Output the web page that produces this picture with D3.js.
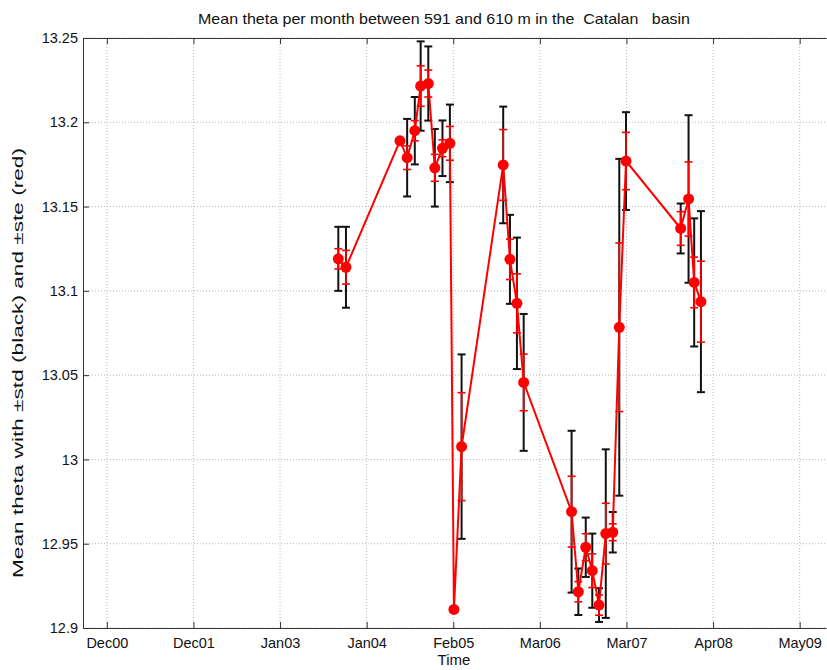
<!DOCTYPE html>
<html>
<head>
<meta charset="utf-8">
<script src="https://cdn.jsdelivr.net/npm/d3@7"></script>
<style>
  html, body { margin: 0; padding: 0; background: #fff; }
  svg text { font-family: "Liberation Sans", Arial, sans-serif; }
</style>
</head>
<body>
<svg id="chart" width="827" height="670"></svg>
<script>
// ---- data ----
const dates = ["2003-09-26","2003-10-30","2004-06-26","2004-07-28","2004-08-31","2004-09-26","2004-10-30","2004-11-28","2005-01-01","2005-02-03","2005-02-21","2005-03-27","2005-09-28","2005-10-28","2005-11-28","2005-12-28","2006-07-29","2006-08-28","2006-09-30","2006-10-29","2006-11-28","2006-12-28","2007-01-28","2007-02-26","2007-03-28","2007-11-26","2007-12-31","2008-01-25","2008-02-24"];
const meanTheta = [13.119,13.114,13.189,13.179,13.195,13.2215,13.223,13.173,13.1846,13.1875,12.911,13.0076,13.1747,13.1187,13.0926,13.0457,12.969,12.9215,12.9479,12.934,12.9136,12.956,12.9568,13.0784,13.177,13.137,13.1545,13.105,13.0936];
const stdTheta = [0.019,0.024,null,0.023,0.020,0.0265,0.022,0.023,0.0165,0.023,null,0.0547,0.0346,0.0264,0.039,0.0406,0.048,0.0138,0.0176,0.022,0.010,0.050,0.012,0.0999,0.029,0.0148,0.0497,0.038,0.0537];
const steTheta = [0.006,0.010,null,0.007,0.006,0.012,0.008,0.008,0.005,0.010,null,0.032,0.021,0.012,0.0175,0.0168,0.021,0.006,0.008,0.010,0.006,0.018,0.005,0.050,0.017,0.010,0.022,0.015,0.024];
const xTickDates = ["2000-12-01","2001-12-21","2003-01-10","2004-01-30","2005-02-18","2006-03-10","2007-03-30","2008-04-18","2009-05-08"];
const xTickLabels = ["Dec00","Dec01","Jan03","Jan04","Feb05","Mar06","Mar07","Apr08","May09"];
const yTicks = [12.9,12.95,13,13.05,13.1,13.15,13.2,13.25];
const xDomain = ["2000-08-17","2009-09-02"];
const yDomain = [12.9,13.25];

const parse = d3.utcParse("%Y-%m-%d");
const data = dates.map((d,i)=>({t:parse(d), m:meanTheta[i], sd:stdTheta[i], se:steTheta[i]}));

const L = 83, R = 826, T = 38, B = 628;
const svg = d3.select("#chart");
const x = d3.scaleUtc().domain(xDomain.map(parse)).range([L, R]);
const y = d3.scaleLinear().domain(yDomain).range([B, T]);

// grid
const grid = svg.append("g");
grid.selectAll("line.vx").data(xTickDates.map(parse)).enter().append("line")
  .attr("x1", d=>x(d)).attr("x2", d=>x(d)).attr("y1", T).attr("y2", B)
  .attr("stroke", "#b8b8b8").attr("stroke-width", 1).attr("stroke-dasharray", "1,2");
grid.selectAll("line.hy").data(yTicks).enter().append("line")
  .attr("x1", L).attr("x2", R).attr("y1", d=>y(d)).attr("y2", d=>y(d))
  .attr("stroke", "#b8b8b8").attr("stroke-width", 1).attr("stroke-dasharray", "1,2");

// axes
const xAxis = d3.axisBottom(x).tickValues(xTickDates.map(parse))
  .tickFormat((d,i)=>xTickLabels[i]).tickSizeInner(-6).tickSizeOuter(0).tickPadding(10);
const gx = svg.append("g").attr("transform", `translate(0,${B})`).call(xAxis);
const xAxisTop = d3.axisTop(x).tickValues(xTickDates.map(parse)).tickFormat("").tickSizeInner(-6).tickSizeOuter(0);
const gxt = svg.append("g").attr("transform", `translate(0,${T})`).call(xAxisTop);
const yAxis = d3.axisLeft(y).tickValues(yTicks).tickFormat(d3.format("")).tickSizeInner(-6).tickSizeOuter(0).tickPadding(5);
const gy = svg.append("g").attr("transform", `translate(${L},0)`).call(yAxis);
[gx,gxt,gy].forEach(g=>{
  g.select(".domain").attr("stroke", "#333").attr("stroke-width", 1);
  g.selectAll(".tick line").attr("stroke", "#333");
  g.selectAll(".tick text").attr("font-size", 14.5).attr("fill", "#111");
});

// black std error bars
const cap = 4;
const sdData = data.filter(d=>d.sd!=null);
const gb = svg.append("g").attr("stroke", "#111").attr("stroke-width", 2);
gb.selectAll("line.v").data(sdData).enter().append("line")
  .attr("x1", d=>x(d.t)).attr("x2", d=>x(d.t)).attr("y1", d=>y(d.m+d.sd)).attr("y2", d=>y(d.m-d.sd));
gb.selectAll("line.t").data(sdData).enter().append("line")
  .attr("x1", d=>x(d.t)-cap).attr("x2", d=>x(d.t)+cap).attr("y1", d=>y(d.m+d.sd)).attr("y2", d=>y(d.m+d.sd));
gb.selectAll("line.b").data(sdData).enter().append("line")
  .attr("x1", d=>x(d.t)-cap).attr("x2", d=>x(d.t)+cap).attr("y1", d=>y(d.m-d.sd)).attr("y2", d=>y(d.m-d.sd));

// red line
const line = d3.line().x(d=>x(d.t)).y(d=>y(d.m));
svg.append("path").datum(data).attr("d", line)
  .attr("fill", "none").attr("stroke", "#ff0000").attr("stroke-width", 2);

// red ste error bars
const seData = data.filter(d=>d.se!=null);
const gr = svg.append("g").attr("stroke", "#ff0000").attr("stroke-width", 1.6);
gr.selectAll("line.v").data(seData).enter().append("line")
  .attr("x1", d=>x(d.t)).attr("x2", d=>x(d.t)).attr("y1", d=>y(d.m+d.se)).attr("y2", d=>y(d.m-d.se));
gr.selectAll("line.t").data(seData).enter().append("line")
  .attr("x1", d=>x(d.t)-cap).attr("x2", d=>x(d.t)+cap).attr("y1", d=>y(d.m+d.se)).attr("y2", d=>y(d.m+d.se));
gr.selectAll("line.b").data(seData).enter().append("line")
  .attr("x1", d=>x(d.t)-cap).attr("x2", d=>x(d.t)+cap).attr("y1", d=>y(d.m-d.se)).attr("y2", d=>y(d.m-d.se));

// markers
svg.append("g").selectAll("circle").data(data).enter().append("circle")
  .attr("cx", d=>x(d.t)).attr("cy", d=>y(d.m)).attr("r", 5.5).attr("fill", "#ff0000");

// texts
svg.append("text").attr("x", 444).attr("y", 24).attr("text-anchor", "middle")
  .attr("font-size", 15).attr("fill", "#111").style("white-space", "pre")
  .attr("textLength", 492).attr("lengthAdjust", "spacingAndGlyphs")
  .text("Mean theta per month between 591 and 610 m in the  Catalan   basin");
svg.append("text").attr("x", 454).attr("y", 665).attr("text-anchor", "middle")
  .attr("font-size", 15).attr("fill", "#111").text("Time");
svg.append("text").attr("transform", `translate(23,363) rotate(-90)`).attr("text-anchor", "middle")
  .attr("font-size", 14).attr("fill", "#111")
  .attr("textLength", 430).attr("lengthAdjust", "spacingAndGlyphs")
  .text("Mean theta with \u00b1std (black) and \u00b1ste (red)");
</script>
</body>
</html>
